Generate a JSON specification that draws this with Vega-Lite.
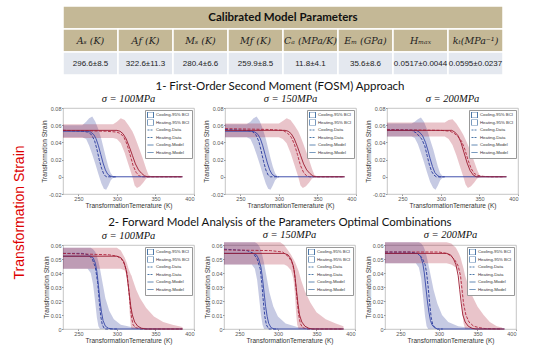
{
"$schema": "https://vega.github.io/schema/vega-lite/v6.json",
"background": "white",
"padding": {"left": 13, "top": 5, "right": 5, "bottom": 0},
"config": {
  "view": {"stroke": "#b8b8b8", "strokeWidth": 0.8},
  "axis": {"grid": false, "domain": false, "labelFont": "Liberation Sans", "titleFont": "Liberation Sans", "labelFontSize": 5.5, "titleFontSize": 6.5, "titleFontWeight": "normal", "labelColor": "#555555", "titleColor": "#333333", "tickColor": "#999999", "tickSize": 1.5, "labelPadding": 0.5, "titlePadding": 1, "labelOverlap": false},
  "legend": {"orient": "top-right", "offset": 2, "fillColor": "white", "strokeColor": "#999999", "padding": 2, "labelFont": "Liberation Sans", "labelFontSize": 4.3, "labelColor": "#333333", "symbolSize": 36, "symbolStrokeWidth": 1, "rowPadding": 1.5, "clipHeight": 6, "labelOffset": 2, "title": null},
  "title": {"font": "Liberation Serif", "fontStyle": "italic", "fontWeight": "normal", "fontSize": 10.5, "color": "#111111", "offset": 2},
  "concat": {"spacing": 8}
},
"datasets": {
"table": [
 {"row": "t", "col": 0, "text": "Calibrated Model Parameters"},
 {"row": "h", "col": 0, "text": "Aₛ (K)"},
 {"row": "h", "col": 1, "text": "Aƒ (K)"},
 {"row": "h", "col": 2, "text": "Mₛ (K)"},
 {"row": "h", "col": 3, "text": "Mƒ (K)"},
 {"row": "h", "col": 4, "text": "Cₐ (MPa/K)"},
 {"row": "h", "col": 5, "text": "Eₘ (GPa)"},
 {"row": "h", "col": 6, "text": "Hₘₐₓ"},
 {"row": "h", "col": 7, "text": "kₜ(MPa⁻¹)"},
 {"row": "v", "col": 0, "text": "296.6±8.5"},
 {"row": "v", "col": 1, "text": "322.6±11.3"},
 {"row": "v", "col": 2, "text": "280.4±6.6"},
 {"row": "v", "col": 3, "text": "259.9±8.5"},
 {"row": "v", "col": 4, "text": "11.8±4.1"},
 {"row": "v", "col": 5, "text": "35.6±8.6"},
 {"row": "v", "col": 6, "text": "0.0517±0.0044"},
 {"row": "v", "col": 7, "text": "0.0595±0.0237"}
],
"bands": [
 {"p":1,"s":"Cooling-95% BCI","T":230,"lo":0.046,"hi":0.060},
 {"p":1,"s":"Cooling-95% BCI","T":255,"lo":0.046,"hi":0.060},
 {"p":1,"s":"Cooling-95% BCI","T":260,"lo":0.044,"hi":0.064},
 {"p":1,"s":"Cooling-95% BCI","T":264,"lo":0.036,"hi":0.068},
 {"p":1,"s":"Cooling-95% BCI","T":268,"lo":0.026,"hi":0.070},
 {"p":1,"s":"Cooling-95% BCI","T":272,"lo":0.015,"hi":0.064},
 {"p":1,"s":"Cooling-95% BCI","T":276,"lo":0.003,"hi":0.055},
 {"p":1,"s":"Cooling-95% BCI","T":280,"lo":-0.008,"hi":0.043},
 {"p":1,"s":"Cooling-95% BCI","T":283,"lo":-0.014,"hi":0.032},
 {"p":1,"s":"Cooling-95% BCI","T":286,"lo":-0.015,"hi":0.021},
 {"p":1,"s":"Cooling-95% BCI","T":289,"lo":-0.010,"hi":0.011},
 {"p":1,"s":"Cooling-95% BCI","T":292,"lo":-0.004,"hi":0.004},
 {"p":1,"s":"Cooling-95% BCI","T":295,"lo":-0.001,"hi":0.001},
 {"p":1,"s":"Cooling-95% BCI","T":300,"lo":-0.0003,"hi":0.0003},
 {"p":1,"s":"Cooling-95% BCI","T":385,"lo":-0.0003,"hi":0.0003},
 {"p":1,"s":"Heating-95% BCI","T":230,"lo":0.045,"hi":0.061},
 {"p":1,"s":"Heating-95% BCI","T":295,"lo":0.045,"hi":0.061},
 {"p":1,"s":"Heating-95% BCI","T":300,"lo":0.044,"hi":0.064},
 {"p":1,"s":"Heating-95% BCI","T":305,"lo":0.039,"hi":0.068},
 {"p":1,"s":"Heating-95% BCI","T":310,"lo":0.028,"hi":0.066},
 {"p":1,"s":"Heating-95% BCI","T":315,"lo":0.014,"hi":0.060},
 {"p":1,"s":"Heating-95% BCI","T":320,"lo":0.000,"hi":0.053},
 {"p":1,"s":"Heating-95% BCI","T":323,"lo":-0.010,"hi":0.047},
 {"p":1,"s":"Heating-95% BCI","T":326,"lo":-0.013,"hi":0.040},
 {"p":1,"s":"Heating-95% BCI","T":330,"lo":-0.011,"hi":0.030},
 {"p":1,"s":"Heating-95% BCI","T":334,"lo":-0.007,"hi":0.020},
 {"p":1,"s":"Heating-95% BCI","T":338,"lo":-0.002,"hi":0.009},
 {"p":1,"s":"Heating-95% BCI","T":341,"lo":-0.0005,"hi":0.002},
 {"p":1,"s":"Heating-95% BCI","T":345,"lo":-0.0003,"hi":0.0003},
 {"p":1,"s":"Heating-95% BCI","T":385,"lo":-0.0003,"hi":0.0003},
 {"p":2,"s":"Cooling-95% BCI","T":230,"lo":0.046,"hi":0.061},
 {"p":2,"s":"Cooling-95% BCI","T":258,"lo":0.046,"hi":0.061},
 {"p":2,"s":"Cooling-95% BCI","T":263,"lo":0.044,"hi":0.064},
 {"p":2,"s":"Cooling-95% BCI","T":267,"lo":0.036,"hi":0.068},
 {"p":2,"s":"Cooling-95% BCI","T":271,"lo":0.026,"hi":0.070},
 {"p":2,"s":"Cooling-95% BCI","T":275,"lo":0.015,"hi":0.065},
 {"p":2,"s":"Cooling-95% BCI","T":279,"lo":0.003,"hi":0.056},
 {"p":2,"s":"Cooling-95% BCI","T":283,"lo":-0.008,"hi":0.044},
 {"p":2,"s":"Cooling-95% BCI","T":286,"lo":-0.014,"hi":0.033},
 {"p":2,"s":"Cooling-95% BCI","T":289,"lo":-0.015,"hi":0.022},
 {"p":2,"s":"Cooling-95% BCI","T":292,"lo":-0.010,"hi":0.012},
 {"p":2,"s":"Cooling-95% BCI","T":295,"lo":-0.004,"hi":0.004},
 {"p":2,"s":"Cooling-95% BCI","T":298,"lo":-0.001,"hi":0.001},
 {"p":2,"s":"Cooling-95% BCI","T":301,"lo":-0.0003,"hi":0.0003},
 {"p":2,"s":"Cooling-95% BCI","T":385,"lo":-0.0003,"hi":0.0003},
 {"p":2,"s":"Heating-95% BCI","T":230,"lo":0.046,"hi":0.062},
 {"p":2,"s":"Heating-95% BCI","T":300,"lo":0.046,"hi":0.062},
 {"p":2,"s":"Heating-95% BCI","T":305,"lo":0.044,"hi":0.065},
 {"p":2,"s":"Heating-95% BCI","T":310,"lo":0.039,"hi":0.068},
 {"p":2,"s":"Heating-95% BCI","T":315,"lo":0.028,"hi":0.066},
 {"p":2,"s":"Heating-95% BCI","T":320,"lo":0.014,"hi":0.060},
 {"p":2,"s":"Heating-95% BCI","T":325,"lo":0.000,"hi":0.053},
 {"p":2,"s":"Heating-95% BCI","T":328,"lo":-0.010,"hi":0.047},
 {"p":2,"s":"Heating-95% BCI","T":331,"lo":-0.013,"hi":0.040},
 {"p":2,"s":"Heating-95% BCI","T":335,"lo":-0.011,"hi":0.030},
 {"p":2,"s":"Heating-95% BCI","T":339,"lo":-0.007,"hi":0.020},
 {"p":2,"s":"Heating-95% BCI","T":343,"lo":-0.002,"hi":0.009},
 {"p":2,"s":"Heating-95% BCI","T":346,"lo":-0.0005,"hi":0.002},
 {"p":2,"s":"Heating-95% BCI","T":350,"lo":-0.0003,"hi":0.0003},
 {"p":2,"s":"Heating-95% BCI","T":385,"lo":-0.0003,"hi":0.0003},
 {"p":3,"s":"Cooling-95% BCI","T":230,"lo":0.047,"hi":0.062},
 {"p":3,"s":"Cooling-95% BCI","T":262,"lo":0.047,"hi":0.062},
 {"p":3,"s":"Cooling-95% BCI","T":266,"lo":0.045,"hi":0.064},
 {"p":3,"s":"Cooling-95% BCI","T":270,"lo":0.038,"hi":0.067},
 {"p":3,"s":"Cooling-95% BCI","T":274,"lo":0.028,"hi":0.069},
 {"p":3,"s":"Cooling-95% BCI","T":278,"lo":0.017,"hi":0.064},
 {"p":3,"s":"Cooling-95% BCI","T":282,"lo":0.005,"hi":0.055},
 {"p":3,"s":"Cooling-95% BCI","T":286,"lo":-0.006,"hi":0.043},
 {"p":3,"s":"Cooling-95% BCI","T":290,"lo":-0.013,"hi":0.032},
 {"p":3,"s":"Cooling-95% BCI","T":293,"lo":-0.015,"hi":0.022},
 {"p":3,"s":"Cooling-95% BCI","T":296,"lo":-0.010,"hi":0.012},
 {"p":3,"s":"Cooling-95% BCI","T":299,"lo":-0.004,"hi":0.004},
 {"p":3,"s":"Cooling-95% BCI","T":302,"lo":-0.001,"hi":0.001},
 {"p":3,"s":"Cooling-95% BCI","T":305,"lo":-0.0003,"hi":0.0003},
 {"p":3,"s":"Cooling-95% BCI","T":385,"lo":-0.0003,"hi":0.0003},
 {"p":3,"s":"Heating-95% BCI","T":230,"lo":0.047,"hi":0.063},
 {"p":3,"s":"Heating-95% BCI","T":305,"lo":0.047,"hi":0.063},
 {"p":3,"s":"Heating-95% BCI","T":310,"lo":0.044,"hi":0.066},
 {"p":3,"s":"Heating-95% BCI","T":315,"lo":0.037,"hi":0.067},
 {"p":3,"s":"Heating-95% BCI","T":320,"lo":0.025,"hi":0.062},
 {"p":3,"s":"Heating-95% BCI","T":325,"lo":0.011,"hi":0.055},
 {"p":3,"s":"Heating-95% BCI","T":329,"lo":0.000,"hi":0.049},
 {"p":3,"s":"Heating-95% BCI","T":332,"lo":-0.009,"hi":0.043},
 {"p":3,"s":"Heating-95% BCI","T":335,"lo":-0.013,"hi":0.037},
 {"p":3,"s":"Heating-95% BCI","T":339,"lo":-0.011,"hi":0.028},
 {"p":3,"s":"Heating-95% BCI","T":343,"lo":-0.007,"hi":0.018},
 {"p":3,"s":"Heating-95% BCI","T":347,"lo":-0.002,"hi":0.008},
 {"p":3,"s":"Heating-95% BCI","T":350,"lo":-0.0005,"hi":0.002},
 {"p":3,"s":"Heating-95% BCI","T":354,"lo":-0.0003,"hi":0.0003},
 {"p":3,"s":"Heating-95% BCI","T":385,"lo":-0.0003,"hi":0.0003},
 {"p":4,"s":"Cooling-95% BCI","T":230,"lo":0.043,"hi":0.058},
 {"p":4,"s":"Cooling-95% BCI","T":262,"lo":0.043,"hi":0.058},
 {"p":4,"s":"Cooling-95% BCI","T":266,"lo":0.040,"hi":0.058},
 {"p":4,"s":"Cooling-95% BCI","T":269,"lo":0.032,"hi":0.057},
 {"p":4,"s":"Cooling-95% BCI","T":272,"lo":0.018,"hi":0.055},
 {"p":4,"s":"Cooling-95% BCI","T":274,"lo":0.008,"hi":0.052},
 {"p":4,"s":"Cooling-95% BCI","T":276,"lo":0.002,"hi":0.048},
 {"p":4,"s":"Cooling-95% BCI","T":278,"lo":0,"hi":0.043},
 {"p":4,"s":"Cooling-95% BCI","T":281,"lo":0,"hi":0.034},
 {"p":4,"s":"Cooling-95% BCI","T":285,"lo":0,"hi":0.022},
 {"p":4,"s":"Cooling-95% BCI","T":290,"lo":0,"hi":0.013},
 {"p":4,"s":"Cooling-95% BCI","T":296,"lo":0,"hi":0.007},
 {"p":4,"s":"Cooling-95% BCI","T":305,"lo":0,"hi":0.003},
 {"p":4,"s":"Cooling-95% BCI","T":320,"lo":0,"hi":0.0012},
 {"p":4,"s":"Cooling-95% BCI","T":350,"lo":0,"hi":0.0003},
 {"p":4,"s":"Cooling-95% BCI","T":385,"lo":0,"hi":0.0001},
 {"p":4,"s":"Heating-95% BCI","T":230,"lo":0.043,"hi":0.058},
 {"p":4,"s":"Heating-95% BCI","T":300,"lo":0.043,"hi":0.058},
 {"p":4,"s":"Heating-95% BCI","T":305,"lo":0.043,"hi":0.056},
 {"p":4,"s":"Heating-95% BCI","T":310,"lo":0.042,"hi":0.051},
 {"p":4,"s":"Heating-95% BCI","T":313,"lo":0.038,"hi":0.047},
 {"p":4,"s":"Heating-95% BCI","T":315,"lo":0.028,"hi":0.043},
 {"p":4,"s":"Heating-95% BCI","T":316.5,"lo":0.012,"hi":0.041},
 {"p":4,"s":"Heating-95% BCI","T":318,"lo":0.002,"hi":0.039},
 {"p":4,"s":"Heating-95% BCI","T":319,"lo":0,"hi":0.038},
 {"p":4,"s":"Heating-95% BCI","T":320,"lo":0,"hi":0.036},
 {"p":4,"s":"Heating-95% BCI","T":325,"lo":0,"hi":0.028},
 {"p":4,"s":"Heating-95% BCI","T":330,"lo":0,"hi":0.022},
 {"p":4,"s":"Heating-95% BCI","T":338,"lo":0,"hi":0.015},
 {"p":4,"s":"Heating-95% BCI","T":348,"lo":0,"hi":0.009},
 {"p":4,"s":"Heating-95% BCI","T":360,"lo":0,"hi":0.005},
 {"p":4,"s":"Heating-95% BCI","T":372,"lo":0,"hi":0.003},
 {"p":4,"s":"Heating-95% BCI","T":385,"lo":0,"hi":0.0015},
 {"p":5,"s":"Cooling-95% BCI","T":230,"lo":0.046,"hi":0.062},
 {"p":5,"s":"Cooling-95% BCI","T":266,"lo":0.046,"hi":0.062},
 {"p":5,"s":"Cooling-95% BCI","T":270,"lo":0.043,"hi":0.062},
 {"p":5,"s":"Cooling-95% BCI","T":273,"lo":0.035,"hi":0.061},
 {"p":5,"s":"Cooling-95% BCI","T":276,"lo":0.020,"hi":0.059},
 {"p":5,"s":"Cooling-95% BCI","T":278,"lo":0.010,"hi":0.056},
 {"p":5,"s":"Cooling-95% BCI","T":280,"lo":0.003,"hi":0.052},
 {"p":5,"s":"Cooling-95% BCI","T":282,"lo":0,"hi":0.047},
 {"p":5,"s":"Cooling-95% BCI","T":285,"lo":0,"hi":0.038},
 {"p":5,"s":"Cooling-95% BCI","T":289,"lo":0,"hi":0.026},
 {"p":5,"s":"Cooling-95% BCI","T":294,"lo":0,"hi":0.016},
 {"p":5,"s":"Cooling-95% BCI","T":300,"lo":0,"hi":0.009},
 {"p":5,"s":"Cooling-95% BCI","T":310,"lo":0,"hi":0.004},
 {"p":5,"s":"Cooling-95% BCI","T":325,"lo":0,"hi":0.0015},
 {"p":5,"s":"Cooling-95% BCI","T":350,"lo":0,"hi":0.0004},
 {"p":5,"s":"Cooling-95% BCI","T":385,"lo":0,"hi":0.0001},
 {"p":5,"s":"Heating-95% BCI","T":230,"lo":0.046,"hi":0.062},
 {"p":5,"s":"Heating-95% BCI","T":303,"lo":0.046,"hi":0.062},
 {"p":5,"s":"Heating-95% BCI","T":308,"lo":0.046,"hi":0.060},
 {"p":5,"s":"Heating-95% BCI","T":312,"lo":0.045,"hi":0.057},
 {"p":5,"s":"Heating-95% BCI","T":317,"lo":0.042,"hi":0.053},
 {"p":5,"s":"Heating-95% BCI","T":320,"lo":0.036,"hi":0.050},
 {"p":5,"s":"Heating-95% BCI","T":322,"lo":0.025,"hi":0.048},
 {"p":5,"s":"Heating-95% BCI","T":323.5,"lo":0.012,"hi":0.046},
 {"p":5,"s":"Heating-95% BCI","T":325,"lo":0.003,"hi":0.044},
 {"p":5,"s":"Heating-95% BCI","T":327,"lo":0,"hi":0.041},
 {"p":5,"s":"Heating-95% BCI","T":330,"lo":0,"hi":0.035},
 {"p":5,"s":"Heating-95% BCI","T":335,"lo":0,"hi":0.027},
 {"p":5,"s":"Heating-95% BCI","T":342,"lo":0,"hi":0.019},
 {"p":5,"s":"Heating-95% BCI","T":350,"lo":0,"hi":0.012},
 {"p":5,"s":"Heating-95% BCI","T":362,"lo":0,"hi":0.007},
 {"p":5,"s":"Heating-95% BCI","T":375,"lo":0,"hi":0.004},
 {"p":5,"s":"Heating-95% BCI","T":385,"lo":0,"hi":0.002},
 {"p":6,"s":"Cooling-95% BCI","T":230,"lo":0.047,"hi":0.062},
 {"p":6,"s":"Cooling-95% BCI","T":270,"lo":0.047,"hi":0.062},
 {"p":6,"s":"Cooling-95% BCI","T":274,"lo":0.044,"hi":0.062},
 {"p":6,"s":"Cooling-95% BCI","T":277,"lo":0.036,"hi":0.061},
 {"p":6,"s":"Cooling-95% BCI","T":280,"lo":0.020,"hi":0.059},
 {"p":6,"s":"Cooling-95% BCI","T":282,"lo":0.009,"hi":0.056},
 {"p":6,"s":"Cooling-95% BCI","T":284,"lo":0.002,"hi":0.052},
 {"p":6,"s":"Cooling-95% BCI","T":286,"lo":0,"hi":0.047},
 {"p":6,"s":"Cooling-95% BCI","T":289,"lo":0,"hi":0.039},
 {"p":6,"s":"Cooling-95% BCI","T":293,"lo":0,"hi":0.028},
 {"p":6,"s":"Cooling-95% BCI","T":298,"lo":0,"hi":0.018},
 {"p":6,"s":"Cooling-95% BCI","T":304,"lo":0,"hi":0.010},
 {"p":6,"s":"Cooling-95% BCI","T":312,"lo":0,"hi":0.005},
 {"p":6,"s":"Cooling-95% BCI","T":325,"lo":0,"hi":0.002},
 {"p":6,"s":"Cooling-95% BCI","T":345,"lo":0,"hi":0.0005},
 {"p":6,"s":"Cooling-95% BCI","T":385,"lo":0,"hi":0.0001},
 {"p":6,"s":"Heating-95% BCI","T":230,"lo":0.047,"hi":0.062},
 {"p":6,"s":"Heating-95% BCI","T":310,"lo":0.047,"hi":0.062},
 {"p":6,"s":"Heating-95% BCI","T":316,"lo":0.046,"hi":0.061},
 {"p":6,"s":"Heating-95% BCI","T":322,"lo":0.044,"hi":0.058},
 {"p":6,"s":"Heating-95% BCI","T":326,"lo":0.040,"hi":0.054},
 {"p":6,"s":"Heating-95% BCI","T":328,"lo":0.030,"hi":0.051},
 {"p":6,"s":"Heating-95% BCI","T":330,"lo":0.015,"hi":0.047},
 {"p":6,"s":"Heating-95% BCI","T":332,"lo":0.004,"hi":0.043},
 {"p":6,"s":"Heating-95% BCI","T":334,"lo":0,"hi":0.038},
 {"p":6,"s":"Heating-95% BCI","T":338,"lo":0,"hi":0.031},
 {"p":6,"s":"Heating-95% BCI","T":343,"lo":0,"hi":0.024},
 {"p":6,"s":"Heating-95% BCI","T":350,"lo":0,"hi":0.016},
 {"p":6,"s":"Heating-95% BCI","T":358,"lo":0,"hi":0.010},
 {"p":6,"s":"Heating-95% BCI","T":366,"lo":0,"hi":0.005},
 {"p":6,"s":"Heating-95% BCI","T":375,"lo":0,"hi":0.002},
 {"p":6,"s":"Heating-95% BCI","T":382,"lo":0,"hi":0.001}
],
"lines": [
 {"p":1,"s":"Cooling-Model","T":230,"v":0.053},{"p":1,"s":"Cooling-Model","T":262,"v":0.053},{"p":1,"s":"Cooling-Model","T":266,"v":0.052},{"p":1,"s":"Cooling-Model","T":270,"v":0.049},{"p":1,"s":"Cooling-Model","T":273,"v":0.044},{"p":1,"s":"Cooling-Model","T":276,"v":0.036},{"p":1,"s":"Cooling-Model","T":279,"v":0.026},{"p":1,"s":"Cooling-Model","T":282,"v":0.016},{"p":1,"s":"Cooling-Model","T":285,"v":0.008},{"p":1,"s":"Cooling-Model","T":288,"v":0.003},{"p":1,"s":"Cooling-Model","T":291,"v":0.001},{"p":1,"s":"Cooling-Model","T":295,"v":0},{"p":1,"s":"Cooling-Model","T":385,"v":0},
 {"p":1,"s":"Cooling-Data","T":230,"v":0.054},{"p":1,"s":"Cooling-Data","T":255,"v":0.053},{"p":1,"s":"Cooling-Data","T":262,"v":0.052},{"p":1,"s":"Cooling-Data","T":267,"v":0.049},{"p":1,"s":"Cooling-Data","T":271,"v":0.042},{"p":1,"s":"Cooling-Data","T":274,"v":0.032},{"p":1,"s":"Cooling-Data","T":277,"v":0.020},{"p":1,"s":"Cooling-Data","T":280,"v":0.010},{"p":1,"s":"Cooling-Data","T":283,"v":0.003},{"p":1,"s":"Cooling-Data","T":286,"v":0},{"p":1,"s":"Cooling-Data","T":300,"v":0},
 {"p":1,"s":"Heating-Model","T":230,"v":0.054},{"p":1,"s":"Heating-Model","T":300,"v":0.054},{"p":1,"s":"Heating-Model","T":304,"v":0.053},{"p":1,"s":"Heating-Model","T":308,"v":0.050},{"p":1,"s":"Heating-Model","T":312,"v":0.044},{"p":1,"s":"Heating-Model","T":316,"v":0.035},{"p":1,"s":"Heating-Model","T":320,"v":0.025},{"p":1,"s":"Heating-Model","T":324,"v":0.015},{"p":1,"s":"Heating-Model","T":328,"v":0.008},{"p":1,"s":"Heating-Model","T":332,"v":0.004},{"p":1,"s":"Heating-Model","T":336,"v":0.001},{"p":1,"s":"Heating-Model","T":340,"v":0},{"p":1,"s":"Heating-Model","T":385,"v":0},
 {"p":1,"s":"Heating-Data","T":230,"v":0.054},{"p":1,"s":"Heating-Data","T":285,"v":0.053},{"p":1,"s":"Heating-Data","T":300,"v":0.052},{"p":1,"s":"Heating-Data","T":305,"v":0.050},{"p":1,"s":"Heating-Data","T":309,"v":0.046},{"p":1,"s":"Heating-Data","T":313,"v":0.038},{"p":1,"s":"Heating-Data","T":317,"v":0.026},{"p":1,"s":"Heating-Data","T":321,"v":0.013},{"p":1,"s":"Heating-Data","T":325,"v":0.005},{"p":1,"s":"Heating-Data","T":329,"v":0.001},{"p":1,"s":"Heating-Data","T":333,"v":0},{"p":1,"s":"Heating-Data","T":385,"v":0},
 {"p":2,"s":"Cooling-Model","T":230,"v":0.053},{"p":2,"s":"Cooling-Model","T":265,"v":0.053},{"p":2,"s":"Cooling-Model","T":269,"v":0.052},{"p":2,"s":"Cooling-Model","T":273,"v":0.049},{"p":2,"s":"Cooling-Model","T":276,"v":0.044},{"p":2,"s":"Cooling-Model","T":279,"v":0.036},{"p":2,"s":"Cooling-Model","T":282,"v":0.026},{"p":2,"s":"Cooling-Model","T":285,"v":0.016},{"p":2,"s":"Cooling-Model","T":288,"v":0.008},{"p":2,"s":"Cooling-Model","T":291,"v":0.003},{"p":2,"s":"Cooling-Model","T":294,"v":0.001},{"p":2,"s":"Cooling-Model","T":298,"v":0},{"p":2,"s":"Cooling-Model","T":385,"v":0},
 {"p":2,"s":"Cooling-Data","T":230,"v":0.055},{"p":2,"s":"Cooling-Data","T":258,"v":0.054},{"p":2,"s":"Cooling-Data","T":265,"v":0.053},{"p":2,"s":"Cooling-Data","T":270,"v":0.049},{"p":2,"s":"Cooling-Data","T":274,"v":0.041},{"p":2,"s":"Cooling-Data","T":277,"v":0.030},{"p":2,"s":"Cooling-Data","T":280,"v":0.018},{"p":2,"s":"Cooling-Data","T":283,"v":0.008},{"p":2,"s":"Cooling-Data","T":286,"v":0.002},{"p":2,"s":"Cooling-Data","T":289,"v":0},{"p":2,"s":"Cooling-Data","T":300,"v":0},
 {"p":2,"s":"Heating-Model","T":230,"v":0.054},{"p":2,"s":"Heating-Model","T":308,"v":0.054},{"p":2,"s":"Heating-Model","T":312,"v":0.053},{"p":2,"s":"Heating-Model","T":316,"v":0.050},{"p":2,"s":"Heating-Model","T":320,"v":0.044},{"p":2,"s":"Heating-Model","T":324,"v":0.035},{"p":2,"s":"Heating-Model","T":328,"v":0.025},{"p":2,"s":"Heating-Model","T":332,"v":0.015},{"p":2,"s":"Heating-Model","T":336,"v":0.008},{"p":2,"s":"Heating-Model","T":340,"v":0.004},{"p":2,"s":"Heating-Model","T":344,"v":0.001},{"p":2,"s":"Heating-Model","T":348,"v":0},{"p":2,"s":"Heating-Model","T":385,"v":0},
 {"p":2,"s":"Heating-Data","T":230,"v":0.056},{"p":2,"s":"Heating-Data","T":290,"v":0.055},{"p":2,"s":"Heating-Data","T":305,"v":0.054},{"p":2,"s":"Heating-Data","T":311,"v":0.051},{"p":2,"s":"Heating-Data","T":316,"v":0.046},{"p":2,"s":"Heating-Data","T":320,"v":0.038},{"p":2,"s":"Heating-Data","T":324,"v":0.026},{"p":2,"s":"Heating-Data","T":328,"v":0.013},{"p":2,"s":"Heating-Data","T":332,"v":0.005},{"p":2,"s":"Heating-Data","T":336,"v":0.001},{"p":2,"s":"Heating-Data","T":340,"v":0},{"p":2,"s":"Heating-Data","T":385,"v":0},
 {"p":3,"s":"Cooling-Model","T":230,"v":0.054},{"p":3,"s":"Cooling-Model","T":268,"v":0.054},{"p":3,"s":"Cooling-Model","T":272,"v":0.052},{"p":3,"s":"Cooling-Model","T":276,"v":0.048},{"p":3,"s":"Cooling-Model","T":280,"v":0.040},{"p":3,"s":"Cooling-Model","T":283,"v":0.031},{"p":3,"s":"Cooling-Model","T":286,"v":0.021},{"p":3,"s":"Cooling-Model","T":289,"v":0.012},{"p":3,"s":"Cooling-Model","T":292,"v":0.005},{"p":3,"s":"Cooling-Model","T":295,"v":0.002},{"p":3,"s":"Cooling-Model","T":298,"v":0},{"p":3,"s":"Cooling-Model","T":385,"v":0},
 {"p":3,"s":"Cooling-Data","T":230,"v":0.055},{"p":3,"s":"Cooling-Data","T":262,"v":0.054},{"p":3,"s":"Cooling-Data","T":268,"v":0.051},{"p":3,"s":"Cooling-Data","T":272,"v":0.047},{"p":3,"s":"Cooling-Data","T":275,"v":0.044},{"p":3,"s":"Cooling-Data","T":279,"v":0.036},{"p":3,"s":"Cooling-Data","T":282,"v":0.025},{"p":3,"s":"Cooling-Data","T":285,"v":0.014},{"p":3,"s":"Cooling-Data","T":288,"v":0.006},{"p":3,"s":"Cooling-Data","T":291,"v":0.002},{"p":3,"s":"Cooling-Data","T":294,"v":0},{"p":3,"s":"Cooling-Data","T":305,"v":0},
 {"p":3,"s":"Heating-Model","T":230,"v":0.054},{"p":3,"s":"Heating-Model","T":314,"v":0.054},{"p":3,"s":"Heating-Model","T":318,"v":0.052},{"p":3,"s":"Heating-Model","T":322,"v":0.048},{"p":3,"s":"Heating-Model","T":326,"v":0.040},{"p":3,"s":"Heating-Model","T":330,"v":0.028},{"p":3,"s":"Heating-Model","T":334,"v":0.016},{"p":3,"s":"Heating-Model","T":338,"v":0.007},{"p":3,"s":"Heating-Model","T":342,"v":0.002},{"p":3,"s":"Heating-Model","T":346,"v":0},{"p":3,"s":"Heating-Model","T":385,"v":0},
 {"p":3,"s":"Heating-Data","T":230,"v":0.055},{"p":3,"s":"Heating-Data","T":300,"v":0.054},{"p":3,"s":"Heating-Data","T":312,"v":0.053},{"p":3,"s":"Heating-Data","T":318,"v":0.050},{"p":3,"s":"Heating-Data","T":323,"v":0.046},{"p":3,"s":"Heating-Data","T":327,"v":0.041},{"p":3,"s":"Heating-Data","T":331,"v":0.032},{"p":3,"s":"Heating-Data","T":335,"v":0.020},{"p":3,"s":"Heating-Data","T":339,"v":0.010},{"p":3,"s":"Heating-Data","T":343,"v":0.004},{"p":3,"s":"Heating-Data","T":348,"v":0.0015},{"p":3,"s":"Heating-Data","T":355,"v":0.0005},{"p":3,"s":"Heating-Data","T":365,"v":0},{"p":3,"s":"Heating-Data","T":380,"v":0},
 {"p":4,"s":"Cooling-Model","T":230,"v":0.052},{"p":4,"s":"Cooling-Model","T":266,"v":0.052},{"p":4,"s":"Cooling-Model","T":269,"v":0.051},{"p":4,"s":"Cooling-Model","T":272,"v":0.047},{"p":4,"s":"Cooling-Model","T":274,"v":0.041},{"p":4,"s":"Cooling-Model","T":276,"v":0.031},{"p":4,"s":"Cooling-Model","T":278,"v":0.020},{"p":4,"s":"Cooling-Model","T":280,"v":0.012},{"p":4,"s":"Cooling-Model","T":282,"v":0.006},{"p":4,"s":"Cooling-Model","T":285,"v":0.002},{"p":4,"s":"Cooling-Model","T":289,"v":0.0005},{"p":4,"s":"Cooling-Model","T":295,"v":0},{"p":4,"s":"Cooling-Model","T":385,"v":0},
 {"p":4,"s":"Cooling-Data","T":230,"v":0.054},{"p":4,"s":"Cooling-Data","T":255,"v":0.054},{"p":4,"s":"Cooling-Data","T":263,"v":0.053},{"p":4,"s":"Cooling-Data","T":268,"v":0.050},{"p":4,"s":"Cooling-Data","T":272,"v":0.044},{"p":4,"s":"Cooling-Data","T":275,"v":0.033},{"p":4,"s":"Cooling-Data","T":277,"v":0.020},{"p":4,"s":"Cooling-Data","T":279,"v":0.009},{"p":4,"s":"Cooling-Data","T":281,"v":0.003},{"p":4,"s":"Cooling-Data","T":284,"v":0},{"p":4,"s":"Cooling-Data","T":300,"v":0},
 {"p":4,"s":"Heating-Model","T":230,"v":0.052},{"p":4,"s":"Heating-Model","T":300,"v":0.052},{"p":4,"s":"Heating-Model","T":305,"v":0.051},{"p":4,"s":"Heating-Model","T":309,"v":0.048},{"p":4,"s":"Heating-Model","T":312,"v":0.042},{"p":4,"s":"Heating-Model","T":314,"v":0.034},{"p":4,"s":"Heating-Model","T":316,"v":0.025},{"p":4,"s":"Heating-Model","T":318,"v":0.016},{"p":4,"s":"Heating-Model","T":320,"v":0.010},{"p":4,"s":"Heating-Model","T":323,"v":0.005},{"p":4,"s":"Heating-Model","T":327,"v":0.002},{"p":4,"s":"Heating-Model","T":332,"v":0.0005},{"p":4,"s":"Heating-Model","T":338,"v":0},{"p":4,"s":"Heating-Model","T":385,"v":0},
 {"p":4,"s":"Heating-Data","T":230,"v":0.054},{"p":4,"s":"Heating-Data","T":290,"v":0.053},{"p":4,"s":"Heating-Data","T":300,"v":0.052},{"p":4,"s":"Heating-Data","T":306,"v":0.050},{"p":4,"s":"Heating-Data","T":310,"v":0.046},{"p":4,"s":"Heating-Data","T":313,"v":0.040},{"p":4,"s":"Heating-Data","T":315,"v":0.030},{"p":4,"s":"Heating-Data","T":317,"v":0.018},{"p":4,"s":"Heating-Data","T":319,"v":0.008},{"p":4,"s":"Heating-Data","T":321,"v":0.003},{"p":4,"s":"Heating-Data","T":324,"v":0.001},{"p":4,"s":"Heating-Data","T":330,"v":0},{"p":4,"s":"Heating-Data","T":385,"v":0},
 {"p":5,"s":"Cooling-Model","T":230,"v":0.054},{"p":5,"s":"Cooling-Model","T":268,"v":0.054},{"p":5,"s":"Cooling-Model","T":272,"v":0.053},{"p":5,"s":"Cooling-Model","T":275,"v":0.050},{"p":5,"s":"Cooling-Model","T":278,"v":0.044},{"p":5,"s":"Cooling-Model","T":280,"v":0.036},{"p":5,"s":"Cooling-Model","T":282,"v":0.026},{"p":5,"s":"Cooling-Model","T":284,"v":0.016},{"p":5,"s":"Cooling-Model","T":286,"v":0.009},{"p":5,"s":"Cooling-Model","T":288,"v":0.004},{"p":5,"s":"Cooling-Model","T":291,"v":0.001},{"p":5,"s":"Cooling-Model","T":295,"v":0},{"p":5,"s":"Cooling-Model","T":385,"v":0},
 {"p":5,"s":"Cooling-Data","T":230,"v":0.057},{"p":5,"s":"Cooling-Data","T":260,"v":0.056},{"p":5,"s":"Cooling-Data","T":268,"v":0.054},{"p":5,"s":"Cooling-Data","T":273,"v":0.050},{"p":5,"s":"Cooling-Data","T":277,"v":0.043},{"p":5,"s":"Cooling-Data","T":279,"v":0.033},{"p":5,"s":"Cooling-Data","T":281,"v":0.020},{"p":5,"s":"Cooling-Data","T":283,"v":0.009},{"p":5,"s":"Cooling-Data","T":285,"v":0.003},{"p":5,"s":"Cooling-Data","T":288,"v":0},{"p":5,"s":"Cooling-Data","T":300,"v":0},
 {"p":5,"s":"Heating-Model","T":230,"v":0.054},{"p":5,"s":"Heating-Model","T":308,"v":0.054},{"p":5,"s":"Heating-Model","T":313,"v":0.053},{"p":5,"s":"Heating-Model","T":317,"v":0.050},{"p":5,"s":"Heating-Model","T":320,"v":0.045},{"p":5,"s":"Heating-Model","T":322,"v":0.038},{"p":5,"s":"Heating-Model","T":324,"v":0.028},{"p":5,"s":"Heating-Model","T":326,"v":0.018},{"p":5,"s":"Heating-Model","T":328,"v":0.010},{"p":5,"s":"Heating-Model","T":331,"v":0.005},{"p":5,"s":"Heating-Model","T":335,"v":0.002},{"p":5,"s":"Heating-Model","T":340,"v":0.0005},{"p":5,"s":"Heating-Model","T":345,"v":0},{"p":5,"s":"Heating-Model","T":385,"v":0},
 {"p":5,"s":"Heating-Data","T":230,"v":0.0565},{"p":5,"s":"Heating-Data","T":290,"v":0.056},{"p":5,"s":"Heating-Data","T":306,"v":0.055},{"p":5,"s":"Heating-Data","T":313,"v":0.052},{"p":5,"s":"Heating-Data","T":318,"v":0.048},{"p":5,"s":"Heating-Data","T":321,"v":0.042},{"p":5,"s":"Heating-Data","T":323,"v":0.032},{"p":5,"s":"Heating-Data","T":325,"v":0.020},{"p":5,"s":"Heating-Data","T":327,"v":0.010},{"p":5,"s":"Heating-Data","T":329,"v":0.004},{"p":5,"s":"Heating-Data","T":332,"v":0.001},{"p":5,"s":"Heating-Data","T":337,"v":0},{"p":5,"s":"Heating-Data","T":385,"v":0},
 {"p":6,"s":"Cooling-Model","T":230,"v":0.054},{"p":6,"s":"Cooling-Model","T":272,"v":0.054},{"p":6,"s":"Cooling-Model","T":276,"v":0.052},{"p":6,"s":"Cooling-Model","T":279,"v":0.047},{"p":6,"s":"Cooling-Model","T":281,"v":0.040},{"p":6,"s":"Cooling-Model","T":283,"v":0.030},{"p":6,"s":"Cooling-Model","T":285,"v":0.020},{"p":6,"s":"Cooling-Model","T":287,"v":0.012},{"p":6,"s":"Cooling-Model","T":289,"v":0.006},{"p":6,"s":"Cooling-Model","T":291,"v":0.003},{"p":6,"s":"Cooling-Model","T":294,"v":0.001},{"p":6,"s":"Cooling-Model","T":298,"v":0},{"p":6,"s":"Cooling-Model","T":385,"v":0},
 {"p":6,"s":"Cooling-Data","T":230,"v":0.055},{"p":6,"s":"Cooling-Data","T":262,"v":0.055},{"p":6,"s":"Cooling-Data","T":272,"v":0.054},{"p":6,"s":"Cooling-Data","T":278,"v":0.051},{"p":6,"s":"Cooling-Data","T":282,"v":0.046},{"p":6,"s":"Cooling-Data","T":284,"v":0.040},{"p":6,"s":"Cooling-Data","T":286,"v":0.030},{"p":6,"s":"Cooling-Data","T":288,"v":0.018},{"p":6,"s":"Cooling-Data","T":290,"v":0.008},{"p":6,"s":"Cooling-Data","T":292,"v":0.003},{"p":6,"s":"Cooling-Data","T":295,"v":0.001},{"p":6,"s":"Cooling-Data","T":298,"v":0},{"p":6,"s":"Cooling-Data","T":305,"v":0},
 {"p":6,"s":"Heating-Model","T":230,"v":0.054},{"p":6,"s":"Heating-Model","T":310,"v":0.054},{"p":6,"s":"Heating-Model","T":315,"v":0.053},{"p":6,"s":"Heating-Model","T":319,"v":0.050},{"p":6,"s":"Heating-Model","T":322,"v":0.046},{"p":6,"s":"Heating-Model","T":325,"v":0.038},{"p":6,"s":"Heating-Model","T":327,"v":0.028},{"p":6,"s":"Heating-Model","T":329,"v":0.018},{"p":6,"s":"Heating-Model","T":331,"v":0.010},{"p":6,"s":"Heating-Model","T":334,"v":0.005},{"p":6,"s":"Heating-Model","T":338,"v":0.002},{"p":6,"s":"Heating-Model","T":343,"v":0.0005},{"p":6,"s":"Heating-Model","T":348,"v":0},{"p":6,"s":"Heating-Model","T":385,"v":0},
 {"p":6,"s":"Heating-Data","T":230,"v":0.055},{"p":6,"s":"Heating-Data","T":300,"v":0.055},{"p":6,"s":"Heating-Data","T":310,"v":0.054},{"p":6,"s":"Heating-Data","T":316,"v":0.052},{"p":6,"s":"Heating-Data","T":321,"v":0.049},{"p":6,"s":"Heating-Data","T":325,"v":0.045},{"p":6,"s":"Heating-Data","T":328,"v":0.038},{"p":6,"s":"Heating-Data","T":330,"v":0.028},{"p":6,"s":"Heating-Data","T":332,"v":0.018},{"p":6,"s":"Heating-Data","T":335,"v":0.010},{"p":6,"s":"Heating-Data","T":339,"v":0.005},{"p":6,"s":"Heating-Data","T":345,"v":0.002},{"p":6,"s":"Heating-Data","T":352,"v":0.001},{"p":6,"s":"Heating-Data","T":360,"v":0.0003},{"p":6,"s":"Heating-Data","T":380,"v":0}
]
},
"center": false,
"spacing": 4,
"resolve": {"scale": {"color": "independent", "shape": "independent", "strokeDash": "independent", "x": "independent", "y": "independent"}, "legend": {"color": "independent", "shape": "independent", "strokeDash": "independent"}},
"vconcat": [
 {
  "width": 440, "height": 69,
  "view": {"stroke": null},
  "data": {"name": "table"},
  "layer": [
   {"transform": [{"filter": "datum.row == 't'"}],
    "mark": {"type": "rect", "fill": "#c4b896", "stroke": "white", "strokeWidth": 1.5},
    "encoding": {"y": {"field": "row", "type": "ordinal", "scale": {"domain": ["t", "h", "v"], "paddingInner": 0, "paddingOuter": 0}, "axis": {"labels": false, "ticks": false, "domain": false, "title": null, "minExtent": 35, "maxExtent": 35}}}},
   {"transform": [{"filter": "datum.row != 't'"}],
    "mark": {"type": "rect", "stroke": "white", "strokeWidth": 1.5},
    "encoding": {
      "x": {"field": "col", "type": "ordinal", "scale": {"paddingInner": 0, "paddingOuter": 0}, "axis": null},
      "y": {"field": "row", "type": "ordinal"},
      "fill": {"field": "row", "type": "nominal", "scale": {"domain": ["h", "v"], "range": ["#c4b896", "#e4e8ef"]}, "legend": null}}},
   {"transform": [{"filter": "datum.row == 't'"}],
    "mark": {"type": "text", "font": "Lato", "fontWeight": "bold", "fontSize": 11.5, "color": "#111111"},
    "encoding": {"y": {"field": "row", "type": "ordinal"}, "text": {"field": "text"}}},
   {"transform": [{"filter": "datum.row == 'h'"}],
    "mark": {"type": "text", "font": "DejaVu Serif", "fontStyle": "italic", "fontSize": 9.5, "color": "#222222"},
    "encoding": {"x": {"field": "col", "type": "ordinal", "axis": null}, "y": {"field": "row", "type": "ordinal"}, "text": {"field": "text"}}},
   {"transform": [{"filter": "datum.row == 'v'"}],
    "mark": {"type": "text", "font": "Liberation Sans", "fontSize": 8, "color": "#222222"},
    "encoding": {"x": {"field": "col", "type": "ordinal", "axis": null}, "y": {"field": "row", "type": "ordinal"}, "text": {"field": "text"}}}
  ]
 },
 {
  "title": {"text": "Transformation Strain", "orient": "left", "anchor": "middle", "font": "Liberation Sans", "fontStyle": "normal", "fontWeight": "normal", "fontSize": 14, "color": "#dd0000", "offset": 14},
  "spacing": 6,
  "resolve": {"scale": {"color": "independent", "shape": "independent", "strokeDash": "independent", "x": "independent", "y": "independent"}, "legend": {"color": "independent", "shape": "independent", "strokeDash": "independent"}},
  "vconcat": [
   {
    "title": {"text": "1- First-Order Second Moment (FOSM) Approach", "font": "Lato", "fontStyle": "normal", "fontSize": 11.5, "anchor": "middle", "offset": 1},
    "spacing": 8,
    "resolve": {"scale": {"color": "independent", "shape": "independent", "strokeDash": "independent", "x": "independent", "y": "independent"}, "legend": {"color": "independent", "shape": "independent", "strokeDash": "independent"}},
    "hconcat": [
     {"title": "σ = 100MPa", "width": 131, "height": 86,
      "encoding": {"x": {"field": "T", "type": "quantitative", "scale": {"domain": [230, 400], "nice": false, "zero": false}, "axis": {"values": [250, 300, 350, 400], "title": "TransformationTemerature (K)"}},
                   "y": {"field": "v", "type": "quantitative", "scale": {"domain": [-0.02, 0.08], "nice": false, "zero": false}, "axis": {"values": [-0.02, 0, 0.02, 0.04, 0.06, 0.08], "format": "~g", "title": "Transformation Strain", "labelExpr": "replace(datum.label, '−', '-')"}}},
      "layer": [
       {"data": {"name": "bands"}, "transform": [{"filter": "datum.p == 1"}], "mark": {"type": "area", "opacity": 0.25},
        "encoding": {"y": {"field": "lo", "type": "quantitative", "scale": {"domain": [-0.02, 0.08], "nice": false, "zero": false}, "axis": {"values": [-0.02, 0, 0.02, 0.04, 0.06, 0.08], "format": "~g", "title": "Transformation Strain", "labelExpr": "replace(datum.label, '−', '-')"}}, "y2": {"field": "hi"},
         "color": {"field": "s", "type": "nominal", "scale": {"domain": ["Cooling-Data", "Heating-Data", "Cooling-Model", "Heating-Model", "Cooling-95% BCI", "Heating-95% BCI"], "range": ["#24369a", "#b0243c", "#3848a8", "#9c1a30", "#1c2d8f", "#a6122d"]}, "legend": null}}},
       {"data": {"name": "lines"}, "transform": [{"filter": "datum.p == 1 && indexof(datum.s, 'Data') >= 0"}], "mark": {"type": "line", "strokeWidth": 0.9, "strokeDash": [3, 1.5]},
        "encoding": {"color": {"field": "s", "type": "nominal", "legend": null}}},
       {"data": {"name": "lines"}, "transform": [{"filter": "datum.p == 1 && indexof(datum.s, 'Model') >= 0"}], "mark": {"type": "line", "strokeWidth": 0.9},
        "encoding": {"color": {"field": "s", "type": "nominal", "legend": null}}},
       {"data": {"name": "lines"}, "transform": [{"filter": "datum.p == 1"}], "mark": {"type": "point", "size": 0, "fillOpacity": 0, "strokeOpacity": 0},
        "encoding": {
         "shape": {"field": "s", "type": "nominal", "scale": {"domain": ["Cooling-95% BCI", "Heating-95% BCI", "Cooling-Data", "Heating-Data", "Cooling-Model", "Heating-Model"], "range": ["square", "square", "stroke", "stroke", "stroke", "stroke"]},
          "legend": {"encode": {"symbols": {"fill": {"condition": [{"test": "indexof(datum.value, 'Cooling-95') >= 0", "value": "#1c2d8f"}, {"test": "indexof(datum.value, 'Heating-95') >= 0", "value": "#a6122d"}], "value": "transparent"}, "stroke": {"condition": [{"test": "indexof(datum.value, 'Heating-95') >= 0", "value": "#a6122d"}, {"test": "indexof(datum.value, 'Cooling') >= 0", "value": "#24369a"}], "value": "#a6122d"}, "fillOpacity": {"value": 1}, "strokeOpacity": {"value": 1}, "opacity": {"value": 1}, "strokeWidth": {"value": 1}}}}},
         "strokeDash": {"field": "s", "type": "nominal", "scale": {"domain": ["Cooling-95% BCI", "Heating-95% BCI", "Cooling-Data", "Heating-Data", "Cooling-Model", "Heating-Model"], "range": [[1, 0], [1, 0], [2, 1], [2, 1], [1, 0], [1, 0]]},
          "legend": {"encode": {"symbols": {"fill": {"condition": [{"test": "indexof(datum.value, 'Cooling-95') >= 0", "value": "#1c2d8f"}, {"test": "indexof(datum.value, 'Heating-95') >= 0", "value": "#a6122d"}], "value": "transparent"}, "stroke": {"condition": [{"test": "indexof(datum.value, 'Heating-95') >= 0", "value": "#a6122d"}, {"test": "indexof(datum.value, 'Cooling') >= 0", "value": "#24369a"}], "value": "#a6122d"}, "fillOpacity": {"value": 1}, "strokeOpacity": {"value": 1}, "opacity": {"value": 1}, "strokeWidth": {"value": 1}}}}}}}
      ]},
     {"title": "σ = 150MPa", "width": 131, "height": 86,
      "encoding": {"x": {"field": "T", "type": "quantitative", "scale": {"domain": [230, 400], "nice": false, "zero": false}, "axis": {"values": [250, 300, 350, 400], "title": "TransformationTemerature (K)"}},
                   "y": {"field": "v", "type": "quantitative", "scale": {"domain": [-0.02, 0.08], "nice": false, "zero": false}, "axis": {"values": [-0.02, 0, 0.02, 0.04, 0.06, 0.08], "format": "~g", "title": "Transformation Strain", "labelExpr": "replace(datum.label, '−', '-')"}}},
      "layer": [
       {"data": {"name": "bands"}, "transform": [{"filter": "datum.p == 2"}], "mark": {"type": "area", "opacity": 0.25},
        "encoding": {"y": {"field": "lo", "type": "quantitative", "scale": {"domain": [-0.02, 0.08], "nice": false, "zero": false}, "axis": {"values": [-0.02, 0, 0.02, 0.04, 0.06, 0.08], "format": "~g", "title": "Transformation Strain", "labelExpr": "replace(datum.label, '−', '-')"}}, "y2": {"field": "hi"},
         "color": {"field": "s", "type": "nominal", "scale": {"domain": ["Cooling-Data", "Heating-Data", "Cooling-Model", "Heating-Model", "Cooling-95% BCI", "Heating-95% BCI"], "range": ["#24369a", "#b0243c", "#3848a8", "#9c1a30", "#1c2d8f", "#a6122d"]}, "legend": null}}},
       {"data": {"name": "lines"}, "transform": [{"filter": "datum.p == 2 && indexof(datum.s, 'Data') >= 0"}], "mark": {"type": "line", "strokeWidth": 0.9, "strokeDash": [3, 1.5]},
        "encoding": {"color": {"field": "s", "type": "nominal", "legend": null}}},
       {"data": {"name": "lines"}, "transform": [{"filter": "datum.p == 2 && indexof(datum.s, 'Model') >= 0"}], "mark": {"type": "line", "strokeWidth": 0.9},
        "encoding": {"color": {"field": "s", "type": "nominal", "legend": null}}},
       {"data": {"name": "lines"}, "transform": [{"filter": "datum.p == 2"}], "mark": {"type": "point", "size": 0, "fillOpacity": 0, "strokeOpacity": 0},
        "encoding": {
         "shape": {"field": "s", "type": "nominal", "scale": {"domain": ["Cooling-95% BCI", "Heating-95% BCI", "Cooling-Data", "Heating-Data", "Cooling-Model", "Heating-Model"], "range": ["square", "square", "stroke", "stroke", "stroke", "stroke"]},
          "legend": {"encode": {"symbols": {"fill": {"condition": [{"test": "indexof(datum.value, 'Cooling-95') >= 0", "value": "#1c2d8f"}, {"test": "indexof(datum.value, 'Heating-95') >= 0", "value": "#a6122d"}], "value": "transparent"}, "stroke": {"condition": [{"test": "indexof(datum.value, 'Heating-95') >= 0", "value": "#a6122d"}, {"test": "indexof(datum.value, 'Cooling') >= 0", "value": "#24369a"}], "value": "#a6122d"}, "fillOpacity": {"value": 1}, "strokeOpacity": {"value": 1}, "opacity": {"value": 1}, "strokeWidth": {"value": 1}}}}},
         "strokeDash": {"field": "s", "type": "nominal", "scale": {"domain": ["Cooling-95% BCI", "Heating-95% BCI", "Cooling-Data", "Heating-Data", "Cooling-Model", "Heating-Model"], "range": [[1, 0], [1, 0], [2, 1], [2, 1], [1, 0], [1, 0]]},
          "legend": {"encode": {"symbols": {"fill": {"condition": [{"test": "indexof(datum.value, 'Cooling-95') >= 0", "value": "#1c2d8f"}, {"test": "indexof(datum.value, 'Heating-95') >= 0", "value": "#a6122d"}], "value": "transparent"}, "stroke": {"condition": [{"test": "indexof(datum.value, 'Heating-95') >= 0", "value": "#a6122d"}, {"test": "indexof(datum.value, 'Cooling') >= 0", "value": "#24369a"}], "value": "#a6122d"}, "fillOpacity": {"value": 1}, "strokeOpacity": {"value": 1}, "opacity": {"value": 1}, "strokeWidth": {"value": 1}}}}}}}
      ]},
     {"title": "σ = 200MPa", "width": 131, "height": 86,
      "encoding": {"x": {"field": "T", "type": "quantitative", "scale": {"domain": [230, 400], "nice": false, "zero": false}, "axis": {"values": [250, 300, 350, 400], "title": "TransformationTemerature (K)"}},
                   "y": {"field": "v", "type": "quantitative", "scale": {"domain": [-0.02, 0.08], "nice": false, "zero": false}, "axis": {"values": [-0.02, 0, 0.02, 0.04, 0.06, 0.08], "format": "~g", "title": "Transformation Strain", "labelExpr": "replace(datum.label, '−', '-')"}}},
      "layer": [
       {"data": {"name": "bands"}, "transform": [{"filter": "datum.p == 3"}], "mark": {"type": "area", "opacity": 0.25},
        "encoding": {"y": {"field": "lo", "type": "quantitative", "scale": {"domain": [-0.02, 0.08], "nice": false, "zero": false}, "axis": {"values": [-0.02, 0, 0.02, 0.04, 0.06, 0.08], "format": "~g", "title": "Transformation Strain", "labelExpr": "replace(datum.label, '−', '-')"}}, "y2": {"field": "hi"},
         "color": {"field": "s", "type": "nominal", "scale": {"domain": ["Cooling-Data", "Heating-Data", "Cooling-Model", "Heating-Model", "Cooling-95% BCI", "Heating-95% BCI"], "range": ["#24369a", "#b0243c", "#3848a8", "#9c1a30", "#1c2d8f", "#a6122d"]}, "legend": null}}},
       {"data": {"name": "lines"}, "transform": [{"filter": "datum.p == 3 && indexof(datum.s, 'Data') >= 0"}], "mark": {"type": "line", "strokeWidth": 0.9, "strokeDash": [3, 1.5]},
        "encoding": {"color": {"field": "s", "type": "nominal", "legend": null}}},
       {"data": {"name": "lines"}, "transform": [{"filter": "datum.p == 3 && indexof(datum.s, 'Model') >= 0"}], "mark": {"type": "line", "strokeWidth": 0.9},
        "encoding": {"color": {"field": "s", "type": "nominal", "legend": null}}},
       {"data": {"name": "lines"}, "transform": [{"filter": "datum.p == 3"}], "mark": {"type": "point", "size": 0, "fillOpacity": 0, "strokeOpacity": 0},
        "encoding": {
         "shape": {"field": "s", "type": "nominal", "scale": {"domain": ["Cooling-95% BCI", "Heating-95% BCI", "Cooling-Data", "Heating-Data", "Cooling-Model", "Heating-Model"], "range": ["square", "square", "stroke", "stroke", "stroke", "stroke"]},
          "legend": {"encode": {"symbols": {"fill": {"condition": [{"test": "indexof(datum.value, 'Cooling-95') >= 0", "value": "#1c2d8f"}, {"test": "indexof(datum.value, 'Heating-95') >= 0", "value": "#a6122d"}], "value": "transparent"}, "stroke": {"condition": [{"test": "indexof(datum.value, 'Heating-95') >= 0", "value": "#a6122d"}, {"test": "indexof(datum.value, 'Cooling') >= 0", "value": "#24369a"}], "value": "#a6122d"}, "fillOpacity": {"value": 1}, "strokeOpacity": {"value": 1}, "opacity": {"value": 1}, "strokeWidth": {"value": 1}}}}},
         "strokeDash": {"field": "s", "type": "nominal", "scale": {"domain": ["Cooling-95% BCI", "Heating-95% BCI", "Cooling-Data", "Heating-Data", "Cooling-Model", "Heating-Model"], "range": [[1, 0], [1, 0], [2, 1], [2, 1], [1, 0], [1, 0]]},
          "legend": {"encode": {"symbols": {"fill": {"condition": [{"test": "indexof(datum.value, 'Cooling-95') >= 0", "value": "#1c2d8f"}, {"test": "indexof(datum.value, 'Heating-95') >= 0", "value": "#a6122d"}], "value": "transparent"}, "stroke": {"condition": [{"test": "indexof(datum.value, 'Heating-95') >= 0", "value": "#a6122d"}, {"test": "indexof(datum.value, 'Cooling') >= 0", "value": "#24369a"}], "value": "#a6122d"}, "fillOpacity": {"value": 1}, "strokeOpacity": {"value": 1}, "opacity": {"value": 1}, "strokeWidth": {"value": 1}}}}}}}
      ]}
    ]
   },
   {
    "title": {"text": "2- Forward Model Analysis of the Parameters Optimal Combinations", "font": "Lato", "fontStyle": "normal", "fontSize": 11.5, "anchor": "middle", "offset": 1},
    "spacing": 8,
    "resolve": {"scale": {"color": "independent", "shape": "independent", "strokeDash": "independent", "x": "independent", "y": "independent"}, "legend": {"color": "independent", "shape": "independent", "strokeDash": "independent"}},
    "hconcat": [
     {"title": "σ = 100MPa", "width": 131, "height": 84,
      "encoding": {"x": {"field": "T", "type": "quantitative", "scale": {"domain": [230, 400], "nice": false, "zero": false}, "axis": {"values": [250, 300, 350, 400], "title": "TransformationTemerature (K)"}},
                   "y": {"field": "v", "type": "quantitative", "scale": {"domain": [0, 0.06], "nice": false, "zero": false}, "axis": {"values": [0, 0.01, 0.02, 0.03, 0.04, 0.05, 0.06], "format": "~g", "title": "Transformation Strain"}}},
      "layer": [
       {"data": {"name": "bands"}, "transform": [{"filter": "datum.p == 4"}], "mark": {"type": "area", "opacity": 0.25},
        "encoding": {"y": {"field": "lo", "type": "quantitative", "scale": {"domain": [0, 0.06], "nice": false, "zero": false}, "axis": {"values": [0, 0.01, 0.02, 0.03, 0.04, 0.05, 0.06], "format": "~g", "title": "Transformation Strain"}}, "y2": {"field": "hi"},
         "color": {"field": "s", "type": "nominal", "scale": {"domain": ["Cooling-Data", "Heating-Data", "Cooling-Model", "Heating-Model", "Cooling-95% BCI", "Heating-95% BCI"], "range": ["#24369a", "#b0243c", "#3848a8", "#9c1a30", "#1c2d8f", "#a6122d"]}, "legend": null}}},
       {"data": {"name": "lines"}, "transform": [{"filter": "datum.p == 4 && indexof(datum.s, 'Data') >= 0"}], "mark": {"type": "line", "strokeWidth": 0.9, "strokeDash": [3, 1.5]},
        "encoding": {"color": {"field": "s", "type": "nominal", "legend": null}}},
       {"data": {"name": "lines"}, "transform": [{"filter": "datum.p == 4 && indexof(datum.s, 'Model') >= 0"}], "mark": {"type": "line", "strokeWidth": 0.9},
        "encoding": {"color": {"field": "s", "type": "nominal", "legend": null}}},
       {"data": {"name": "lines"}, "transform": [{"filter": "datum.p == 4"}], "mark": {"type": "point", "size": 0, "fillOpacity": 0, "strokeOpacity": 0},
        "encoding": {
         "shape": {"field": "s", "type": "nominal", "scale": {"domain": ["Cooling-95% BCI", "Heating-95% BCI", "Cooling-Data", "Heating-Data", "Cooling-Model", "Heating-Model"], "range": ["square", "square", "stroke", "stroke", "stroke", "stroke"]},
          "legend": {"encode": {"symbols": {"fill": {"condition": [{"test": "indexof(datum.value, 'Cooling-95') >= 0", "value": "#1c2d8f"}, {"test": "indexof(datum.value, 'Heating-95') >= 0", "value": "#a6122d"}], "value": "transparent"}, "stroke": {"condition": [{"test": "indexof(datum.value, 'Heating-95') >= 0", "value": "#a6122d"}, {"test": "indexof(datum.value, 'Cooling') >= 0", "value": "#24369a"}], "value": "#a6122d"}, "fillOpacity": {"value": 1}, "strokeOpacity": {"value": 1}, "opacity": {"value": 1}, "strokeWidth": {"value": 1}}}}},
         "strokeDash": {"field": "s", "type": "nominal", "scale": {"domain": ["Cooling-95% BCI", "Heating-95% BCI", "Cooling-Data", "Heating-Data", "Cooling-Model", "Heating-Model"], "range": [[1, 0], [1, 0], [2, 1], [2, 1], [1, 0], [1, 0]]},
          "legend": {"encode": {"symbols": {"fill": {"condition": [{"test": "indexof(datum.value, 'Cooling-95') >= 0", "value": "#1c2d8f"}, {"test": "indexof(datum.value, 'Heating-95') >= 0", "value": "#a6122d"}], "value": "transparent"}, "stroke": {"condition": [{"test": "indexof(datum.value, 'Heating-95') >= 0", "value": "#a6122d"}, {"test": "indexof(datum.value, 'Cooling') >= 0", "value": "#24369a"}], "value": "#a6122d"}, "fillOpacity": {"value": 1}, "strokeOpacity": {"value": 1}, "opacity": {"value": 1}, "strokeWidth": {"value": 1}}}}}}}
      ]},
     {"title": "σ = 150MPa", "width": 131, "height": 84,
      "encoding": {"x": {"field": "T", "type": "quantitative", "scale": {"domain": [230, 400], "nice": false, "zero": false}, "axis": {"values": [250, 300, 350, 400], "title": "TransformationTemerature (K)"}},
                   "y": {"field": "v", "type": "quantitative", "scale": {"domain": [0, 0.06], "nice": false, "zero": false}, "axis": {"values": [0, 0.01, 0.02, 0.03, 0.04, 0.05, 0.06], "format": "~g", "title": "Transformation Strain"}}},
      "layer": [
       {"data": {"name": "bands"}, "transform": [{"filter": "datum.p == 5"}], "mark": {"type": "area", "opacity": 0.25},
        "encoding": {"y": {"field": "lo", "type": "quantitative", "scale": {"domain": [0, 0.06], "nice": false, "zero": false}, "axis": {"values": [0, 0.01, 0.02, 0.03, 0.04, 0.05, 0.06], "format": "~g", "title": "Transformation Strain"}}, "y2": {"field": "hi"},
         "color": {"field": "s", "type": "nominal", "scale": {"domain": ["Cooling-Data", "Heating-Data", "Cooling-Model", "Heating-Model", "Cooling-95% BCI", "Heating-95% BCI"], "range": ["#24369a", "#b0243c", "#3848a8", "#9c1a30", "#1c2d8f", "#a6122d"]}, "legend": null}}},
       {"data": {"name": "lines"}, "transform": [{"filter": "datum.p == 5 && indexof(datum.s, 'Data') >= 0"}], "mark": {"type": "line", "strokeWidth": 0.9, "strokeDash": [3, 1.5]},
        "encoding": {"color": {"field": "s", "type": "nominal", "legend": null}}},
       {"data": {"name": "lines"}, "transform": [{"filter": "datum.p == 5 && indexof(datum.s, 'Model') >= 0"}], "mark": {"type": "line", "strokeWidth": 0.9},
        "encoding": {"color": {"field": "s", "type": "nominal", "legend": null}}},
       {"data": {"name": "lines"}, "transform": [{"filter": "datum.p == 5"}], "mark": {"type": "point", "size": 0, "fillOpacity": 0, "strokeOpacity": 0},
        "encoding": {
         "shape": {"field": "s", "type": "nominal", "scale": {"domain": ["Cooling-95% BCI", "Heating-95% BCI", "Cooling-Data", "Heating-Data", "Cooling-Model", "Heating-Model"], "range": ["square", "square", "stroke", "stroke", "stroke", "stroke"]},
          "legend": {"encode": {"symbols": {"fill": {"condition": [{"test": "indexof(datum.value, 'Cooling-95') >= 0", "value": "#1c2d8f"}, {"test": "indexof(datum.value, 'Heating-95') >= 0", "value": "#a6122d"}], "value": "transparent"}, "stroke": {"condition": [{"test": "indexof(datum.value, 'Heating-95') >= 0", "value": "#a6122d"}, {"test": "indexof(datum.value, 'Cooling') >= 0", "value": "#24369a"}], "value": "#a6122d"}, "fillOpacity": {"value": 1}, "strokeOpacity": {"value": 1}, "opacity": {"value": 1}, "strokeWidth": {"value": 1}}}}},
         "strokeDash": {"field": "s", "type": "nominal", "scale": {"domain": ["Cooling-95% BCI", "Heating-95% BCI", "Cooling-Data", "Heating-Data", "Cooling-Model", "Heating-Model"], "range": [[1, 0], [1, 0], [2, 1], [2, 1], [1, 0], [1, 0]]},
          "legend": {"encode": {"symbols": {"fill": {"condition": [{"test": "indexof(datum.value, 'Cooling-95') >= 0", "value": "#1c2d8f"}, {"test": "indexof(datum.value, 'Heating-95') >= 0", "value": "#a6122d"}], "value": "transparent"}, "stroke": {"condition": [{"test": "indexof(datum.value, 'Heating-95') >= 0", "value": "#a6122d"}, {"test": "indexof(datum.value, 'Cooling') >= 0", "value": "#24369a"}], "value": "#a6122d"}, "fillOpacity": {"value": 1}, "strokeOpacity": {"value": 1}, "opacity": {"value": 1}, "strokeWidth": {"value": 1}}}}}}}
      ]},
     {"title": "σ = 200MPa", "width": 131, "height": 84,
      "encoding": {"x": {"field": "T", "type": "quantitative", "scale": {"domain": [230, 400], "nice": false, "zero": false}, "axis": {"values": [250, 300, 350, 400], "title": "TransformationTemerature (K)"}},
                   "y": {"field": "v", "type": "quantitative", "scale": {"domain": [0, 0.06], "nice": false, "zero": false}, "axis": {"values": [0, 0.01, 0.02, 0.03, 0.04, 0.05, 0.06], "format": "~g", "title": "Transformation Strain"}}},
      "layer": [
       {"data": {"name": "bands"}, "transform": [{"filter": "datum.p == 6"}], "mark": {"type": "area", "opacity": 0.25},
        "encoding": {"y": {"field": "lo", "type": "quantitative", "scale": {"domain": [0, 0.06], "nice": false, "zero": false}, "axis": {"values": [0, 0.01, 0.02, 0.03, 0.04, 0.05, 0.06], "format": "~g", "title": "Transformation Strain"}}, "y2": {"field": "hi"},
         "color": {"field": "s", "type": "nominal", "scale": {"domain": ["Cooling-Data", "Heating-Data", "Cooling-Model", "Heating-Model", "Cooling-95% BCI", "Heating-95% BCI"], "range": ["#24369a", "#b0243c", "#3848a8", "#9c1a30", "#1c2d8f", "#a6122d"]}, "legend": null}}},
       {"data": {"name": "lines"}, "transform": [{"filter": "datum.p == 6 && indexof(datum.s, 'Data') >= 0"}], "mark": {"type": "line", "strokeWidth": 0.9, "strokeDash": [3, 1.5]},
        "encoding": {"color": {"field": "s", "type": "nominal", "legend": null}}},
       {"data": {"name": "lines"}, "transform": [{"filter": "datum.p == 6 && indexof(datum.s, 'Model') >= 0"}], "mark": {"type": "line", "strokeWidth": 0.9},
        "encoding": {"color": {"field": "s", "type": "nominal", "legend": null}}},
       {"data": {"name": "lines"}, "transform": [{"filter": "datum.p == 6"}], "mark": {"type": "point", "size": 0, "fillOpacity": 0, "strokeOpacity": 0},
        "encoding": {
         "shape": {"field": "s", "type": "nominal", "scale": {"domain": ["Cooling-95% BCI", "Heating-95% BCI", "Cooling-Data", "Heating-Data", "Cooling-Model", "Heating-Model"], "range": ["square", "square", "stroke", "stroke", "stroke", "stroke"]},
          "legend": {"encode": {"symbols": {"fill": {"condition": [{"test": "indexof(datum.value, 'Cooling-95') >= 0", "value": "#1c2d8f"}, {"test": "indexof(datum.value, 'Heating-95') >= 0", "value": "#a6122d"}], "value": "transparent"}, "stroke": {"condition": [{"test": "indexof(datum.value, 'Heating-95') >= 0", "value": "#a6122d"}, {"test": "indexof(datum.value, 'Cooling') >= 0", "value": "#24369a"}], "value": "#a6122d"}, "fillOpacity": {"value": 1}, "strokeOpacity": {"value": 1}, "opacity": {"value": 1}, "strokeWidth": {"value": 1}}}}},
         "strokeDash": {"field": "s", "type": "nominal", "scale": {"domain": ["Cooling-95% BCI", "Heating-95% BCI", "Cooling-Data", "Heating-Data", "Cooling-Model", "Heating-Model"], "range": [[1, 0], [1, 0], [2, 1], [2, 1], [1, 0], [1, 0]]},
          "legend": {"encode": {"symbols": {"fill": {"condition": [{"test": "indexof(datum.value, 'Cooling-95') >= 0", "value": "#1c2d8f"}, {"test": "indexof(datum.value, 'Heating-95') >= 0", "value": "#a6122d"}], "value": "transparent"}, "stroke": {"condition": [{"test": "indexof(datum.value, 'Heating-95') >= 0", "value": "#a6122d"}, {"test": "indexof(datum.value, 'Cooling') >= 0", "value": "#24369a"}], "value": "#a6122d"}, "fillOpacity": {"value": 1}, "strokeOpacity": {"value": 1}, "opacity": {"value": 1}, "strokeWidth": {"value": 1}}}}}}}
      ]}
    ]
   }
  ]
 }
]
}
